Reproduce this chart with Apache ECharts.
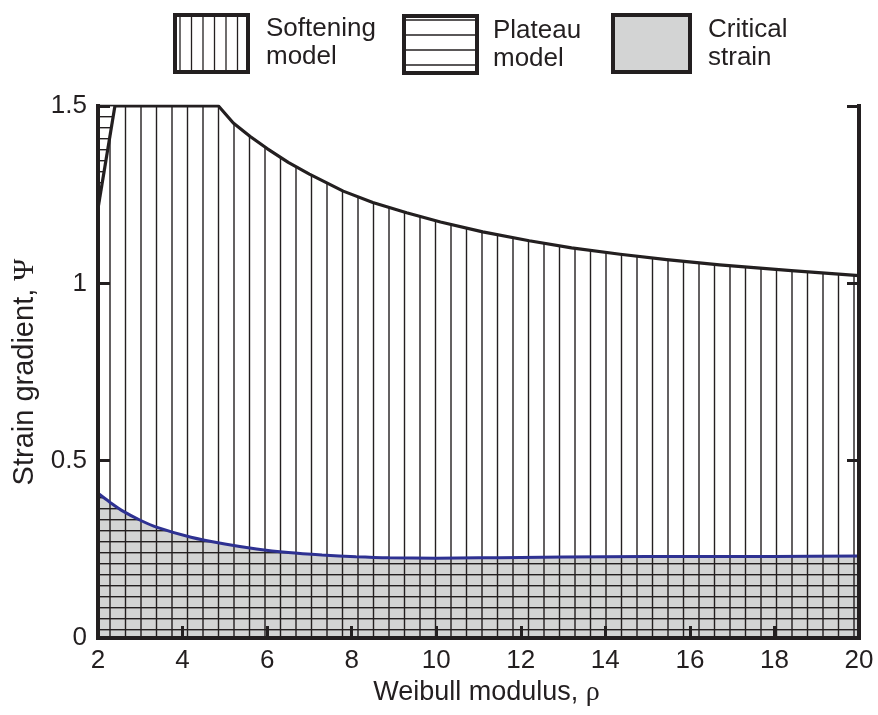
<!DOCTYPE html>
<html>
<head>
<meta charset="utf-8">
<script src="https://cdn.jsdelivr.net/npm/echarts@6/dist/echarts.min.js"></script>
<style>
html,body{margin:0;padding:0;background:#fff;}
#chart{width:878px;height:715px;}
</style>
</head>
<body>
<div id="chart"></div>
<script>
// ---- data ----
const xRange = [2, 20];       // Weibull modulus
const xStep = 2;
const yRange = [0, 1.5];      // Strain gradient
const yStep = 0.5;

// Upper boundary of the softening-model region
const softX = [2, 4.85, 5.2, 5.6, 6, 6.5, 7, 7.8, 8.5, 9.3, 10.1, 11.1, 12.2, 13.2, 14.35, 15.45, 16.7, 18.4, 20];
const softY = [1.5, 1.5, 1.452, 1.414, 1.38, 1.341, 1.308, 1.26, 1.228, 1.199, 1.173, 1.145, 1.12, 1.1, 1.082, 1.067, 1.052, 1.036, 1.022];

// Critical strain curve
const critX = [2, 2.28, 2.6, 3, 3.4, 4.2, 5, 5.75, 6.5, 7.3, 8.1, 8.9, 10, 11, 12, 14, 16, 18, 20];
const critY = [0.408, 0.383, 0.357, 0.332, 0.312, 0.284, 0.265, 0.251, 0.241, 0.234, 0.229, 0.226, 0.225, 0.226, 0.227, 0.229, 0.23, 0.23, 0.231];

// Lower boundary of the plateau-model wedge (top-left corner)
const plateauX = [2, 2.4];
const plateauY = [1.211, 1.5];

const legendNames = [['Softening', 'model'], ['Plateau', 'model'], ['Critical', 'strain']];
const xTitle = ['Weibull modulus, ', 'ρ'];
const yTitle = ['Strain gradient, ', 'Ψ'];

// ---- styling helpers ----
const INK = '#231f20';
const GRAY = '#d3d4d4';
const BLUE = '#2e3192';
const SANS = '"Liberation Sans", Arial, Helvetica, sans-serif';
const SERIF = '"Liberation Serif", "Times New Roman", serif';

function zip(xs, ys) { return xs.map((x, i) => [x, ys[i]]); }

function vPattern() {
  const c = document.createElement('canvas');
  c.width = 31; c.height = 4;
  const g = c.getContext('2d');
  g.fillStyle = INK;
  [1.5, 17].forEach(x => g.fillRect(x - 0.7, 0, 1.4, 4));
  return c;
}
function hPattern(phase, bg) {
  const c = document.createElement('canvas');
  c.width = 4; c.height = 11;
  const g = c.getContext('2d');
  if (bg) { g.fillStyle = bg; g.fillRect(0, 0, 4, 11); }
  g.fillStyle = INK;
  g.fillRect(0, phase - 0.7, 4, 1.4);
  return c;
}

const chart = echarts.init(document.getElementById('chart'), null, { renderer: 'canvas' });

// legend swatches (graphic)
const legendBoxes = [
  { x: 175, y: 15, w: 73, h: 57, kind: 'v', tx: 266, ty: [29, 57] },
  { x: 404, y: 16, w: 73, h: 57, kind: 'h', tx: 493, ty: [31, 59] },
  { x: 613, y: 15, w: 77, h: 57, kind: 'g', tx: 708, ty: [30, 58] }
];
const graphics = [];
legendBoxes.forEach((b, i) => {
  if (b.kind === 'g') {
    graphics.push({ type: 'rect', shape: { x: b.x, y: b.y, width: b.w, height: b.h }, style: { fill: GRAY, stroke: INK, lineWidth: 4 } });
  } else {
    graphics.push({ type: 'rect', shape: { x: b.x, y: b.y, width: b.w, height: b.h }, style: { fill: '#fff', stroke: null } });
    if (b.kind === 'v') {
      for (let lx = b.x + 5; lx < b.x + b.w - 2; lx += 11.5) {
        graphics.push({ type: 'line', shape: { x1: lx, y1: b.y, x2: lx, y2: b.y + b.h }, style: { stroke: INK, lineWidth: 1.3 } });
      }
    } else {
      [4, 19, 34, 49].forEach(dy => {
        graphics.push({ type: 'line', shape: { x1: b.x, y1: b.y + dy, x2: b.x + b.w, y2: b.y + dy }, style: { stroke: INK, lineWidth: 1.3 } });
      });
    }
    graphics.push({ type: 'rect', shape: { x: b.x, y: b.y, width: b.w, height: b.h }, style: { fill: null, stroke: INK, lineWidth: 4 } });
  }
  legendNames[i].forEach((t, j) => {
    graphics.push({ type: 'text', x: b.tx, y: b.ty[j], style: { text: t, font: '26px ' + SANS, fill: INK, verticalAlign: 'middle', align: 'left' } });
  });
});

const axisLine = { show: true, lineStyle: { color: INK, width: 4, cap: 'square' } };
const axisTick = { show: true, inside: true, length: 12, lineStyle: { color: INK, width: 3 } };
const labelStyle = { fontSize: 26, fontFamily: SANS, color: INK };

chart.setOption({
  animation: false,
  backgroundColor: '#fff',
  grid: { left: 98, right: 19, top: 106, bottom: 77, containLabel: false },
  xAxis: [
    {
      type: 'value', min: xRange[0], max: xRange[1], interval: xStep, position: 'bottom', z: 10,
      axisLine, axisTick, splitLine: { show: false },
      axisLabel: Object.assign({ margin: 10 }, labelStyle),
      name: '{a|' + xTitle[0] + '}{b|' + xTitle[1] + '}', nameLocation: 'middle', nameGap: 35,
      nameTextStyle: { padding: [0, 0, 0, 16], rich: {
        a: { fontSize: 27, fontFamily: SANS, color: INK },
        b: { fontSize: 28, fontFamily: SERIF, color: INK }
      } }
    },
    {
      type: 'value', min: xRange[0], max: xRange[1], interval: xStep, position: 'top', z: 10,
      axisLine, axisTick: { show: false }, axisLabel: { show: false }, splitLine: { show: false }
    }
  ],
  yAxis: [
    {
      type: 'value', min: yRange[0], max: yRange[1], interval: yStep, position: 'left', z: 10,
      axisLine, axisTick, splitLine: { show: false },
      axisLabel: Object.assign({ margin: 11, formatter: v => String(v) }, labelStyle),
      name: '{a|' + yTitle[0] + '}{b|' + yTitle[1] + '}', nameLocation: 'middle', nameGap: 56, nameRotate: 90,
      nameTextStyle: { rich: {
        a: { fontSize: 29, fontFamily: SANS, color: INK },
        b: { fontSize: 30, fontFamily: SERIF, color: INK }
      } }
    },
    {
      type: 'value', min: yRange[0], max: yRange[1], interval: yStep, position: 'right', z: 10,
      axisLine, axisTick, axisLabel: { show: false }, splitLine: { show: false }
    }
  ],
  series: [
    {
      name: 'Critical strain', type: 'line', data: zip(critX, critY), showSymbol: false, z: 2,
      smooth: 0.3,
      lineStyle: { width: 0, opacity: 0 },
      areaStyle: { color: { image: hPattern(2.7, GRAY), repeat: 'repeat' }, opacity: 1 }
    },
    {
      name: 'Softening model', type: 'line', data: zip(softX, softY), showSymbol: false, z: 3,
      smooth: false,
      lineStyle: { color: INK, width: 3.2, join: 'round' },
      areaStyle: { color: { image: vPattern(), repeat: 'repeat' }, opacity: 1 }
    },
    {
      name: 'Plateau model', type: 'line', data: zip(plateauX, plateauY), showSymbol: false, z: 4,
      lineStyle: { color: INK, width: 3.2 },
      areaStyle: { origin: 'end', color: { image: hPattern(6.7, '#fff'), repeat: 'repeat' }, opacity: 1 }
    },
    {
      name: 'Critical strain line', type: 'line', data: zip(critX, critY), showSymbol: false, z: 5,
      smooth: 0.3,
      lineStyle: { color: BLUE, width: 3 }
    }
  ],
  graphic: graphics
});
</script>
</body>
</html>
